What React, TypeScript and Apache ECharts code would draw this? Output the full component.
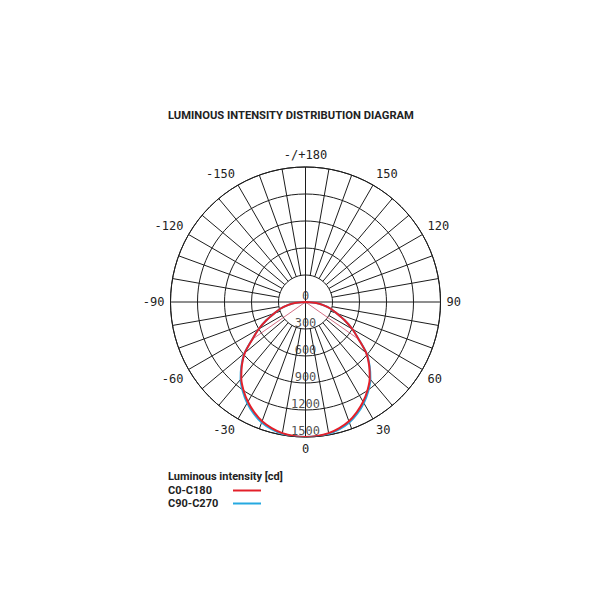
import React, { useEffect, useRef } from 'react';
import * as echarts from 'echarts';

// Angle axis labels (every 30°) and grid spokes (every 10°)
const angleLabels = [-180, -150, -120, -90, -60, -30, 0, 30, 60, 90, 120, 150, 180];
const gridAngles = [
  -170, -160, -150, -140, -130, -120, -110, -100, -90, -80, -70, -60, -50, -40, -30, -20, -10,
  0, 10, 20, 30, 40, 50, 60, 70, 80, 90, 100, 110, 120, 130, 140, 150, 160, 170, 180,
];
// Radial ticks (cd)
const radialTicks = [0, 300, 600, 900, 1200, 1500];

// Curve sample angles (degrees)
const curveAngles = [
  -90, -85, -80, -75, -70, -65, -60, -55, -50, -45, -40, -35, -30, -25, -20, -15, -10, -5,
  0, 5, 10, 15, 20, 25, 30, 35, 40, 45, 50, 55, 60, 65, 70, 75, 80, 85, 90,
];
// C0-C180 intensities (cd)
const c0c180 = [
  0, 120, 200, 290, 370, 480, 600, 720, 880, 1000, 1110, 1200, 1280, 1350, 1410, 1450, 1480, 1495,
  1500, 1495, 1480, 1450, 1410, 1350, 1280, 1200, 1110, 1000, 880, 720, 600, 480, 370, 290, 200, 120, 0,
];
// C90-C270 intensities (cd)
const c90c270 = [
  0, 120, 200, 290, 370, 480, 600, 722, 884, 1008, 1122, 1214, 1296, 1366, 1424, 1462, 1487, 1498,
  1500, 1498, 1487, 1462, 1424, 1366, 1296, 1214, 1122, 1008, 884, 722, 600, 480, 370, 290, 200, 120, 0,
];
// Thin beam marker lines
const beamAngles = [-55, 55];
const beamValues = [720, 720];

const RED = '#e3202a';
const BLUE = '#25a9e0';
const GRID = '#1c1c1c';
const MONO = 'DejaVu Sans Mono';

export default function App() {
  const ref = useRef<HTMLDivElement>(null);

  useEffect(() => {
    if (!ref.current) return;
    const chart = echarts.init(ref.current, undefined, { renderer: 'svg' });

    const gridSeries = gridAngles.map((a) => ({
      type: 'line',
      coordinateSystem: 'polar',
      silent: true,
      symbol: 'none',
      z: 1,
      lineStyle: { color: GRID, width: 1 },
      data: [
        [a % 90 === 0 ? 0 : radialTicks[1], a],
        [radialTicks[radialTicks.length - 1], a],
      ],
    }));

    const beamSeries = beamAngles.map((a, i) => ({
      type: 'line',
      coordinateSystem: 'polar',
      silent: true,
      symbol: 'none',
      z: 4,
      lineStyle: { color: '#c03050', width: 0.7 },
      data: [
        [0, a],
        [beamValues[i], a],
      ],
    }));

    chart.setOption({
      animation: false,
      backgroundColor: '#ffffff',
      title: [
        {
          text: 'LUMINOUS INTENSITY DISTRIBUTION DIAGRAM',
          left: 168,
          top: 110,
          textStyle: { fontFamily: 'Roboto', fontWeight: 'bold', fontSize: 11.2, color: '#222' },
          padding: 0,
        },
        {
          text: 'Luminous intensity [cd]',
          left: 168,
          top: 471,
          textStyle: { fontFamily: 'Roboto', fontWeight: 'bold', fontSize: 11, color: '#222' },
          padding: 0,
        },
      ],
      legend: {
        data: ['C0-C180', 'C90-C270'],
        orient: 'vertical',
        left: 168,
        top: 485,
        align: 'right',
        icon: 'rect',
        itemWidth: 28,
        itemHeight: 2,
        itemGap: 2,
        padding: 0,
        selectedMode: false,
        formatter: (name: string) => `{t|${name}}`,
        textStyle: {
          fontFamily: 'Roboto',
          fontWeight: 'bold',
          fontSize: 11,
          color: '#222',
          padding: 0,
          rich: {
            t: {
              width: 60,
              align: 'left',
              fontFamily: 'Roboto',
              fontWeight: 'bold',
              fontSize: 11,
              color: '#222',
            },
          },
        },
      },
      polar: { center: [305.5, 302], radius: 135 },
      angleAxis: {
        type: 'value',
        min: -180,
        max: 180,
        interval: 30,
        startAngle: 90,
        clockwise: false,
        axisLine: { show: true, lineStyle: { color: GRID, width: 1 } },
        axisTick: { show: false },
        splitLine: { show: false },
        axisLabel: {
          margin: 6,
          fontFamily: MONO,
          fontSize: 12,
          color: '#222',
          formatter: (v: number) => (Math.abs(v) === 180 ? '-/+180' : String(v)),
        },
      },
      radiusAxis: {
        type: 'value',
        min: 0,
        max: 1500,
        interval: 300,
        axisLine: { show: false },
        axisTick: { show: false },
        axisLabel: { show: false },
        splitLine: { show: true, lineStyle: { color: GRID, width: 1 } },
      },
      series: [
        ...gridSeries,
        {
          name: 'C90-C270',
          type: 'line',
          coordinateSystem: 'polar',
          symbol: 'none',
          smooth: 0.3,
          z: 5,
          color: BLUE,
          lineStyle: { color: BLUE, width: 2 },
          data: curveAngles.map((a, i) => [c90c270[i], a]),
        },
        {
          name: 'C0-C180',
          type: 'line',
          coordinateSystem: 'polar',
          symbol: 'none',
          smooth: 0.3,
          z: 6,
          color: RED,
          lineStyle: { color: RED, width: 2 },
          data: curveAngles.map((a, i) => [c0c180[i], a]),
        },
        ...beamSeries,
        {
          type: 'scatter',
          coordinateSystem: 'polar',
          silent: true,
          symbolSize: 0.1,
          z: 10,
          itemStyle: { color: 'rgba(0,0,0,0)' },
          label: {
            show: true,
            position: 'top',
            distance: 0,
            fontFamily: MONO,
            fontSize: 12,
            color: '#222',
            formatter: (p: any) => String(p.value[0]),
          },
          data: radialTicks.map((r) => [r, 0]),
        },
      ],
    });

    return () => chart.dispose();
  }, []);

  return (
    <div
      ref={ref}
      style={{ position: 'fixed', left: 0, top: 0, width: 600, height: 600, background: '#fff' }}
    />
  );
}
